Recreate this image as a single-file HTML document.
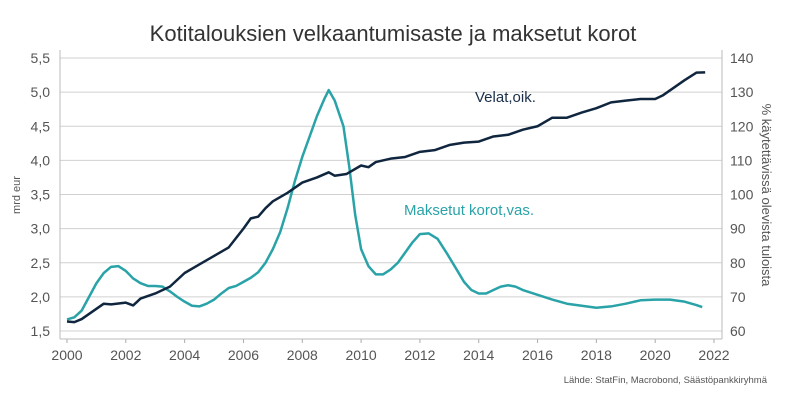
<!DOCTYPE html>
<html><head><meta charset="utf-8"><style>
body{margin:0;background:#fff;}
svg{font-family:"Liberation Sans",sans-serif;}
</style></head><body>
<svg id="chart" width="801" height="409">
<text x="393" y="41" text-anchor="middle" font-size="22" fill="#333">Kotitalouksien velkaantumisaste ja maksetut korot</text>
<g id="grid"></g><g id="axes"></g><g id="series"></g>
<text x="20" y="195" transform="rotate(-90 20 195)" text-anchor="middle" font-size="11" fill="#555">mrd eur</text>
<text x="762" y="195" transform="rotate(90 762 195)" text-anchor="middle" font-size="13" fill="#555">% käytettävissä olevista tuloista</text>
<text x="475" y="102" font-size="15" fill="#1a2f4a">Velat,oik.</text>
<text x="404" y="215" font-size="15" fill="#2aa3a8">Maksetut korot,vas.</text>
<text x="767" y="383" text-anchor="end" font-size="9.5" fill="#555">Lähde: StatFin, Macrobond, Säästöpankkiryhmä</text>
</svg>
<script>
const leftTicks=["1,5","2,0","2,5","3,0","3,5","4,0","4,5","5,0","5,5"];
const rightTicks=["60","70","80","90","100","110","120","130","140"];
const xTicks=[2000,2002,2004,2006,2008,2010,2012,2014,2016,2018,2020,2022];
const korotT=[2000,2000.25,2000.5,2000.75,2001,2001.25,2001.5,2001.75,2002,2002.25,2002.5,2002.75,2003,2003.25,2003.5,2003.75,2004,2004.25,2004.5,2004.75,2005,2005.25,2005.5,2005.75,2006,2006.25,2006.5,2006.75,2007,2007.25,2007.5,2007.75,2008,2008.25,2008.5,2008.75,2008.9,2009.1,2009.4,2009.6,2009.8,2010,2010.25,2010.5,2010.75,2011,2011.25,2011.5,2011.75,2012,2012.3,2012.6,2012.9,2013.25,2013.5,2013.75,2014,2014.25,2014.5,2014.75,2015,2015.25,2015.5,2016,2016.5,2017,2017.5,2018,2018.5,2019,2019.5,2020,2020.5,2021,2021.4,2021.6];
const korotV=[1.67,1.7,1.8,2.0,2.2,2.35,2.44,2.45,2.38,2.27,2.2,2.16,2.16,2.15,2.08,2.0,1.93,1.87,1.86,1.9,1.96,2.05,2.13,2.16,2.22,2.28,2.36,2.5,2.7,2.95,3.3,3.7,4.05,4.35,4.65,4.9,5.03,4.88,4.5,3.9,3.2,2.7,2.45,2.33,2.33,2.4,2.5,2.65,2.8,2.92,2.93,2.85,2.65,2.4,2.22,2.1,2.05,2.05,2.1,2.15,2.17,2.15,2.1,2.03,1.96,1.9,1.87,1.84,1.86,1.9,1.95,1.96,1.96,1.93,1.88,1.85];
const velatT=[2000,2000.25,2000.5,2001,2001.25,2001.5,2002,2002.25,2002.5,2003,2003.5,2004,2004.5,2005,2005.5,2006,2006.25,2006.5,2006.75,2007,2007.5,2008,2008.5,2008.9,2009.1,2009.5,2010,2010.25,2010.5,2011,2011.5,2012,2012.5,2013,2013.5,2014,2014.5,2015,2015.5,2016,2016.5,2017,2017.5,2018,2018.5,2019,2019.5,2020,2020.25,2020.75,2021,2021.4,2021.7];
const velatV=[62.8,62.6,63.5,66.5,68,67.8,68.3,67.5,69.5,71,73,77,79.5,82,84.5,90,93,93.5,96,98,100.5,103.5,105,106.5,105.5,106,108.5,108,109.5,110.5,111,112.5,113,114.5,115.2,115.5,117,117.5,119,120,122.5,122.5,124,125.3,127,127.5,128,128,129,132,133.5,135.7,135.8];
const X=t=>67+(t-2000)*(714-67)/22;
const YL=v=>331-(v-1.5)*(273/4);
const YR=v=>331-(v-60)*(273/80);
const NS="http://www.w3.org/2000/svg";
function mk(tag,attrs,parent,txt){const e=document.createElementNS(NS,tag);for(const k in attrs)e.setAttribute(k,attrs[k]);if(txt!==undefined)e.textContent=txt;document.getElementById(parent).appendChild(e);return e;}
leftTicks.forEach((l,i)=>{const v=1.5+i*0.5;const y=YL(v);
 const g=mk('line',{x1:60,x2:722,y1:y,y2:y,stroke:'#d0d0d0','stroke-width':1},'grid');
 
 
 const t=mk('text',{x:50,y:y+5,'text-anchor':'end','font-size':14,fill:'#555'},'axes',l);
 
 
});
rightTicks.forEach((l,i)=>{const y=YR(60+i*10);
 const t=mk('text',{x:730,y:y+5,'font-size':14,fill:'#555'},'axes',l);
 
 
});
xTicks.forEach(yr=>{const x=X(yr);
 const tk=mk('line',{x1:x,x2:x,y1:339,y2:343,stroke:'#aaa'},'axes');
 
 
 const t=mk('text',{x:x,y:360,'text-anchor':'middle','font-size':14,fill:'#555'},'axes',String(yr));
 
 
});
const ax1=mk('line',{x1:60,x2:60,y1:50,y2:339,stroke:'#bbb'},'axes');


const ax2=mk('line',{x1:722,x2:722,y1:50,y2:339,stroke:'#bbb'},'axes');


const ax3=mk('line',{x1:60,x2:722,y1:339,y2:339,stroke:'#bbb'},'axes');


const p1=mk('polyline',{points:korotT.map((t,i)=>X(t)+','+YL(korotV[i])).join(' '),fill:'none',stroke:'#2aa3a8','stroke-width':2.5,'stroke-linejoin':'round'},'series');


const p2=mk('polyline',{points:velatT.map((t,i)=>X(t)+','+YR(velatV[i])).join(' '),fill:'none',stroke:'#10263f','stroke-width':2.5,'stroke-linejoin':'round'},'series');


</script>
</body></html>
